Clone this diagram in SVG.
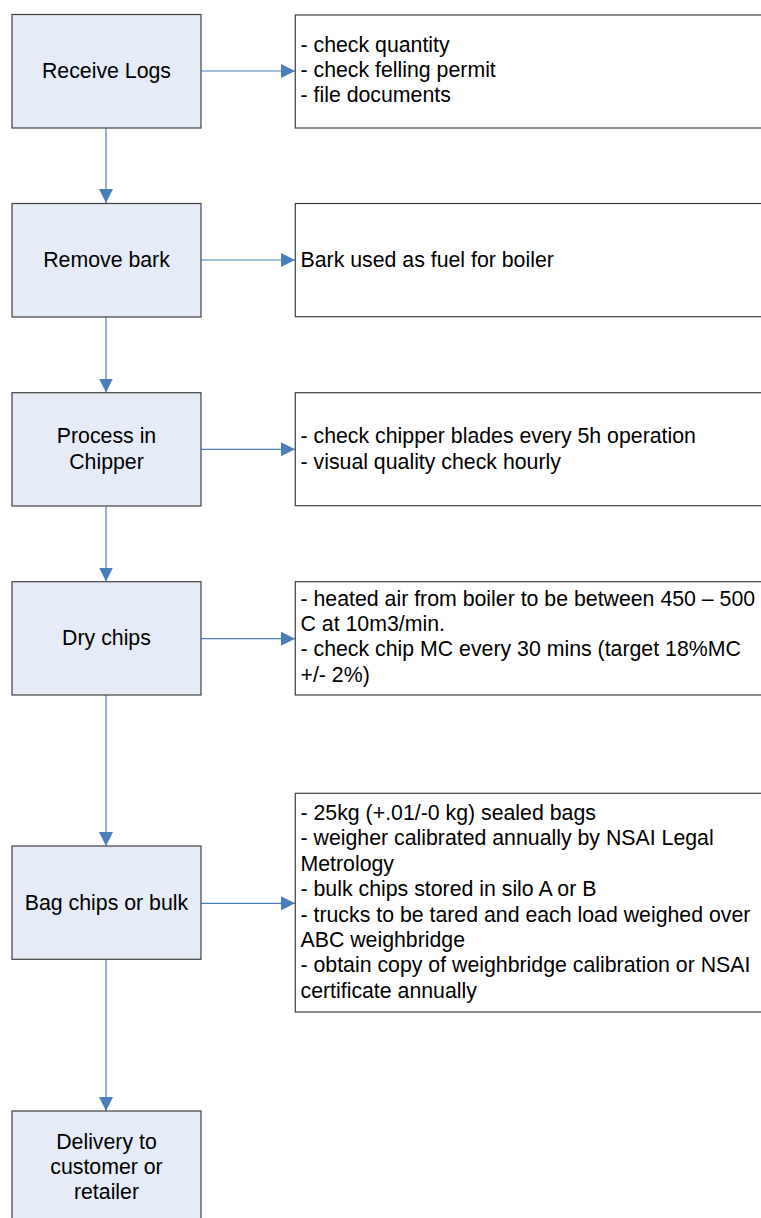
<svg xmlns="http://www.w3.org/2000/svg" width="761" height="1218" viewBox="0 0 761 1218">
<style>
.step{fill:#e6ecf7;stroke:#404040;stroke-width:1.2}
.note{fill:#ffffff;stroke:#404040;stroke-width:1.2}
.t{font-family:"Liberation Sans",Arial,sans-serif;font-size:21.3px;fill:#000}
.c{text-anchor:middle}
.conn{stroke:#4a7ebb;stroke-width:1.2;fill:none}
</style>
<defs>
<marker id="ah" viewBox="0 0 10 10" refX="10" refY="5" markerWidth="14" markerHeight="14" markerUnits="userSpaceOnUse" orient="auto">
<path d="M0,0 L10,5 L0,10 Z" fill="#4a7ebb"/>
</marker>
</defs>
<rect width="761" height="1218" fill="#ffffff"/>
<g id="connectors">
<line class="conn" x1="106" y1="128" x2="106" y2="203" marker-end="url(#ah)"/>
<line class="conn" x1="106" y1="317" x2="106" y2="392.5" marker-end="url(#ah)"/>
<line class="conn" x1="106" y1="506" x2="106" y2="581.5" marker-end="url(#ah)"/>
<line class="conn" x1="106" y1="695" x2="106" y2="846" marker-end="url(#ah)"/>
<line class="conn" x1="106" y1="959.5" x2="106" y2="1111" marker-end="url(#ah)"/>
<line class="conn" x1="201" y1="71" x2="295" y2="71" marker-end="url(#ah)"/>
<line class="conn" x1="201" y1="260" x2="295" y2="260" marker-end="url(#ah)"/>
<line class="conn" x1="201" y1="449.3" x2="295" y2="449.3" marker-end="url(#ah)"/>
<line class="conn" x1="201" y1="638.7" x2="295" y2="638.7" marker-end="url(#ah)"/>
<line class="conn" x1="201" y1="903.3" x2="295" y2="903.3" marker-end="url(#ah)"/>
</g>
<g id="receive-logs">
<rect class="step" x="12" y="14.5" width="189" height="113.5"/>
<text class="t c" x="106.5" y="78.3">Receive Logs</text>
</g>
<g id="remove-bark">
<rect class="step" x="12" y="203.5" width="189" height="113.5"/>
<text class="t c" x="106.5" y="267.3">Remove bark</text>
</g>
<g id="process-chipper">
<rect class="step" x="12" y="392.7" width="189" height="113.3"/>
<text class="t c" x="106.5" y="442.7">Process in</text>
<text class="t c" x="106.5" y="468.5">Chipper</text>
</g>
<g id="dry-chips">
<rect class="step" x="12" y="581.7" width="189" height="113.3"/>
<text class="t c" x="106.5" y="645">Dry chips</text>
</g>
<g id="bag-chips">
<rect class="step" x="12" y="846" width="189" height="113.3"/>
<text class="t c" x="106.5" y="910">Bag chips or bulk</text>
</g>
<g id="delivery">
<rect class="step" x="12" y="1111" width="189" height="120"/>
<text class="t c" x="106.5" y="1149">Delivery to</text>
<text class="t c" x="106.5" y="1174.2">customer or</text>
<text class="t c" x="106.5" y="1199.4">retailer</text>
</g>
<g id="note-receive">
<rect class="note" x="295.3" y="15" width="480" height="113"/>
<text class="t" x="300.5" y="51.7">- check quantity</text>
<text class="t" x="300.5" y="77">- check felling permit</text>
<text class="t" x="300.5" y="102.3">- file documents</text>
</g>
<g id="note-bark">
<rect class="note" x="295.3" y="203.5" width="480" height="113.2"/>
<text class="t" x="300.5" y="266.7">Bark used as fuel for boiler</text>
</g>
<g id="note-chipper">
<rect class="note" x="295.3" y="392.7" width="480" height="113"/>
<text class="t" x="300.5" y="443.3">- check chipper blades every 5h operation</text>
<text class="t" x="300.5" y="468.6">- visual quality check hourly</text>
</g>
<g id="note-dry">
<rect class="note" x="295.3" y="581.7" width="480" height="113.3"/>
<text class="t" x="300.5" y="605.7">- heated air from boiler to be between 450 – 500</text>
<text class="t" x="300.5" y="631">C at 10m3/min.</text>
<text class="t" x="300.5" y="656.4">- check chip MC every 30 mins (target 18%MC</text>
<text class="t" x="300.5" y="681.7">+/- 2%)</text>
</g>
<g id="note-bag">
<rect class="note" x="295.3" y="793.3" width="480" height="218.7"/>
<text class="t" x="300.5" y="820">- 25kg (+.01/-0 kg) sealed bags</text>
<text class="t" x="300.5" y="845.4">- weigher calibrated annually by NSAI Legal</text>
<text class="t" x="300.5" y="870.8">Metrology</text>
<text class="t" x="300.5" y="896.2">- bulk chips stored in silo A or B</text>
<text class="t" x="300.5" y="921.6">- trucks to be tared and each load weighed over</text>
<text class="t" x="300.5" y="947">ABC weighbridge</text>
<text class="t" x="300.5" y="972.4">- obtain copy of weighbridge calibration or NSAI</text>
<text class="t" x="300.5" y="997.8">certificate annually</text>
</g>
</svg>
